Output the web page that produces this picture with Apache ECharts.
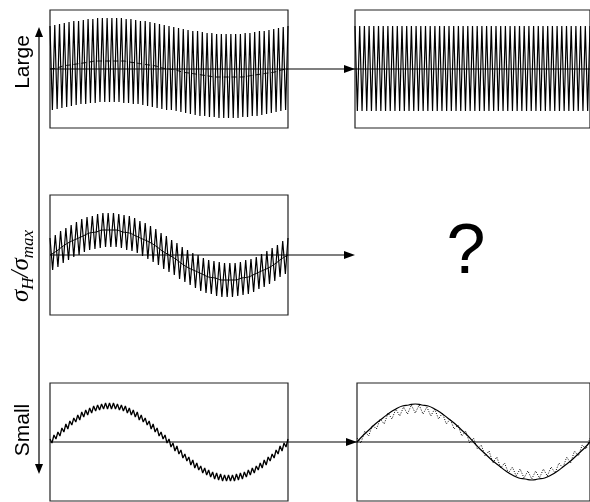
<!DOCTYPE html>
<html><head><meta charset="utf-8">
<script src="https://cdn.jsdelivr.net/npm/echarts@6/dist/echarts.min.js"></script>
<style>html,body{margin:0;padding:0;background:#fff}#c{width:590px;height:502px}</style>
</head><body><div id="c"></div>
<script>
// Large σH/σmax, input signal (left) : fast oscillation peaks
const largeInput = [43,-41,44,-40,45,-39,46,-38,47,-37,
48,-36,48,-35,49,-35,50,-34,50,-34,
51,-33,51,-33,51,-33,51,-33,51,-33,
51,-34,50,-34,50,-35,49,-35,48,-36,
48,-37,47,-38,46,-39,45,-40,44,-41,
43,-41,42,-42,41,-43,40,-44,39,-45,
38,-46,38,-47,37,-47,36,-48,36,-48,
35,-49,35,-49,35,-49,35,-49,35,-49,
35,-48,36,-48,36,-47,37,-47,38,-46,
38,-45,39,-44,40,-43,41,-42,42,-41,
43];
// slow component (dashed) in the large case
const largeSlow = [0,1,3,4,5,6,7,8,8,8,8,8,7,6,5,4,3,1,0,-1,-3,-4,-5,-6,-7,-8,-8,-8,-8,-8,-7,-6,-5,-4,-3,-1,0];
// Large case output (right)
const largeOutput = [43,-42,43,-42,43,-42,43,-42,43,-42,
43,-42,43,-42,43,-42,43,-42,43,-42,
43,-42,43,-42,43,-42,43,-42,43,-42,
43,-42,43,-42,43,-42,43,-42,43,-42,
43,-42,43,-42,43,-42,43,-42,43,-42,
43,-42,43,-42,43,-42,43,-42,43,-42,
43,-42,43,-42,43,-42,43,-42,43,-42,
43,-42,43,-42,43,-42,43,-42,43,-42,
43,-42,43,-42,43,-42,43,-42,43,-42,
43,-42,43,-42,43,-42,43,-42,43,-42,
43];
// Medium case input
const midInput = [17,-15,20,-12,24,-8,27,-5,30,-2,
33,0,36,3,38,5,39,6,41,7,
42,8,42,8,42,8,41,7,40,5,
39,4,37,2,34,-1,32,-4,29,-7,
26,-10,22,-14,19,-17,15,-20,12,-24,
8,-27,5,-30,2,-33,0,-36,-3,-38,
-5,-39,-6,-41,-7,-42,-8,-42,-8,-42,
-8,-41,-7,-40,-5,-39,-4,-37,-2,-34,
1,-32,4,-29,7,-26,10,-22,14,-19,
17];
const midSlow = [0,4,9,13,16,19,22,23,25,25,25,23,22,19,16,13,9,4,0,-4,-9,-13,-16,-19,-22,-23,-25,-25,-25,-23,-22,-19,-16,-13,-9,-4,0];
// Small case input
const smallInput = [3,-1,7,3,10,6,14,10,18,13,
21,17,24,20,27,22,30,25,32,27,
34,29,36,31,37,32,38,33,39,33,
39,33,39,33,38,32,37,31,36,29,
34,27,32,25,30,22,27,20,24,17,
21,13,18,10,14,6,10,3,7,-1,
3,-5,-1,-9,-4,-12,-8,-16,-12,-19,
-15,-23,-18,-26,-21,-28,-24,-31,-26,-33,
-28,-35,-30,-37,-31,-38,-32,-39,-33,-39,
-33,-39,-33,-39,-32,-38,-31,-37,-30,-35,
-28,-33,-26,-31,-24,-28,-21,-26,-18,-23,
-15,-19,-12,-16,-8,-12,-4,-9,-1,-5,
3];
// Small case output: smooth response and dotted residual
const smallOutput = [0,7,13,19,24,29,33,36,37,38,37,36,33,29,24,19,13,7,0,-7,-13,-19,-24,-29,-33,-36,-37,-38,-37,-36,-33,-29,-24,-19,-13,-7,0];
const smallResidual = [4,-1,11,6,17,13,23,18,29,23,
33,26,35,28,37,29,37,28,35,26,
33,23,29,18,23,13,17,6,11,-1,
4,-7,-3,-14,-9,-21,-15,-26,-21,-31,
-25,-34,-27,-36,-29,-37,-29,-36,-27,-34,
-25,-31,-21,-26,-15,-21,-9,-14,-3,-7,
4];
const axisLabels = {top: 'Large', bottom: 'Small', unknown: '?'};

function pairs(arr){ const n = arr.length - 1; return arr.map((v,i)=>[i/n, v]); }

const panels = [
  {left:50, top:10, height:118, lim:59},
  {left:355, top:10, height:118, lim:59},
  {left:50, top:195, height:120, lim:60},
  {left:50, top:383, height:118, lim:59},
  {left:357, top:383, height:118, lim:59}
];
const grid = panels.map(p=>({left:p.left, top:p.top, width:238, height:p.height, show:true,
  borderColor:'#222', borderWidth:1.2, backgroundColor:'transparent', containLabel:false}));
const xAxis = panels.map((p,i)=>({type:'value', gridIndex:i, min:0, max:1, show:false}));
const yAxis = panels.map((p,i)=>({type:'value', gridIndex:i, min:-p.lim, max:p.lim, show:false}));

function ser(idx, arr, opts){
  return Object.assign({type:'line', xAxisIndex:idx, yAxisIndex:idx, data:pairs(arr),
    showSymbol:false, symbol:'none', silent:true, animation:false,
    lineStyle:{color:'#000', width:1}, z:3}, opts||{});
}
const series = [
  ser(0, largeInput, {lineStyle:{color:'#000', width:1.2}}),
  ser(0, largeSlow, {smooth:true, lineStyle:{color:'#000', width:1, type:[5,3]}, z:4}),
  ser(1, largeOutput, {lineStyle:{color:'#000', width:1.2}}),
  ser(2, midInput, {lineStyle:{color:'#000', width:1.2}}),
  ser(2, midSlow, {smooth:true, lineStyle:{color:'#000', width:1}, z:4}),
  ser(3, smallInput, {lineStyle:{color:'#000', width:1.3}}),
  ser(4, smallResidual, {lineStyle:{color:'#000', width:1, type:[1,1.5]}}),
  ser(4, smallOutput, {smooth:true, lineStyle:{color:'#000', width:1.2}, z:4})
];

const blk = {stroke:'#000', lineWidth:1.2};
const graphic = [
  {type:'line', shape:{x1:39,y1:34,x2:39,y2:467}, style:blk, z:1},
  {type:'polygon', shape:{points:[[39,27],[35,37],[43,37]]}, style:{fill:'#000'}},
  {type:'polygon', shape:{points:[[39,474],[35,464],[43,464]]}, style:{fill:'#000'}},
  {type:'line', shape:{x1:50,y1:69,x2:590,y2:69}, style:blk, z:1},
  {type:'polygon', shape:{points:[[355,69],[344,65],[344,73]]}, style:{fill:'#000'}},
  {type:'line', shape:{x1:50,y1:255,x2:350,y2:255}, style:blk, z:1},
  {type:'polygon', shape:{points:[[355,255],[344,251],[344,259]]}, style:{fill:'#000'}},
  {type:'line', shape:{x1:50,y1:442,x2:590,y2:442}, style:blk, z:1},
  {type:'polygon', shape:{points:[[357,442],[346,438],[346,446]]}, style:{fill:'#000'}},
  {type:'text', x:23, y:62, rotation:Math.PI/2, style:{text:axisLabels.top, fill:'#000',
    font:'21px "Liberation Sans", Arial, sans-serif', textAlign:'center', textVerticalAlign:'middle'}},
  {type:'text', x:23, y:430, rotation:Math.PI/2, style:{text:axisLabels.bottom, fill:'#000',
    font:'21px "Liberation Sans", Arial, sans-serif', textAlign:'center', textVerticalAlign:'middle'}},
  {type:'text', x:21, y:266, rotation:Math.PI/2, style:{
    text:'{s|σ}{b|H}{s|/σ}{b|max}', textAlign:'center', textVerticalAlign:'middle',
    rich:{
      s:{font:'italic 25px "Liberation Serif", "Times New Roman", serif', fill:'#000', verticalAlign:'bottom'},
      b:{font:'italic 17px "Liberation Serif", "Times New Roman", serif', fill:'#000', verticalAlign:'bottom', padding:[0,0,-4,0]}
    }}},
  {type:'text', x:466, y:254, style:{text:axisLabels.unknown, fill:'#000',
    font:'70px "Liberation Sans", Arial, sans-serif', textAlign:'center', textVerticalAlign:'middle'}}
];

const chart = echarts.init(document.getElementById('c'), null, {renderer:'canvas'});
chart.setOption({animation:false, backgroundColor:'#fff', grid, xAxis, yAxis, series, graphic});
</script></body></html>
